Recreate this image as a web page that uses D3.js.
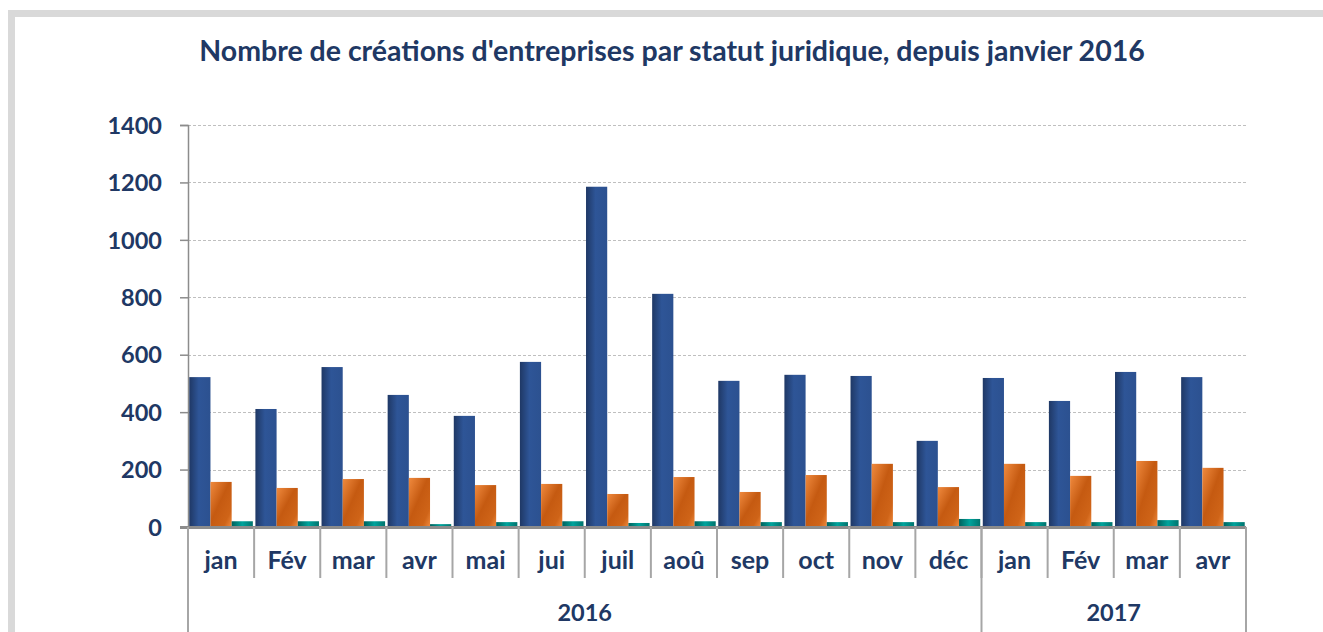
<!DOCTYPE html>
<html>
<head>
<meta charset="utf-8">
<script src="https://cdn.jsdelivr.net/npm/d3@7"></script>
<style>
  html, body { margin: 0; padding: 0; background: #fff; }
  svg { display: block; }
  text { font-family: Lato, "Open Sans", sans-serif; font-weight: bold; fill: #203864; }
</style>
</head>
<body>
<div id="chart"></div>
<script>
// chart data
var months = ["jan", "Fév", "mar", "avr", "mai", "jui", "juil", "aoû", "sep", "oct", "nov", "déc", "jan", "Fév", "mar", "avr"];
var years = ["2016", "2017"];
var yearSpans = [12, 4];
var seriesA = [522, 411, 557, 460, 387, 575, 1185, 812, 509, 530, 526, 300, 519, 439, 540, 522];
var seriesB = [157, 136, 167, 171, 146, 150, 115, 174, 122, 181, 220, 139, 220, 178, 230, 206];
var seriesC = [20, 20, 20, 10, 17, 20, 14, 20, 17, 17, 17, 28, 17, 17, 24, 17];
var yTicks = [0, 200, 400, 600, 800, 1000, 1200, 1400];
var title = "Nombre de créations d'entreprises par statut juridique, depuis janvier 2016";

var W = 1323, H = 632;
var plotLeft = 188, plotRight = 1246, plotTop = 125, plotBottom = 527;

var svg = d3.select("#chart").append("svg")
    .attr("width", W)
    .attr("height", H);

// gradients for the bars
var defs = svg.append("defs");
function grad(id, stops, x2, y2) {
    var g = defs.append("linearGradient").attr("id", id)
        .attr("x1", 0).attr("y1", 0).attr("x2", x2).attr("y2", y2);
    stops.forEach(function (s) {
        g.append("stop").attr("offset", s[0]).attr("stop-color", s[1]);
    });
}
grad("gBlue", [[0, "#1f3865"], [0.45, "#2e5597"], [1, "#2c5190"]], 1, 0);
grad("gOrange", [[0, "#f08a3e"], [0.45, "#c55a11"], [0.8, "#cf6418"], [1, "#f08a3e"]], 1, 1);
grad("gTeal", [[0, "#00615c"], [0.5, "#00a39c"], [1, "#00746e"]], 1, 0);

// outer frame
svg.append("path")
    .attr("d", "M11.5," + H + "V13.5H" + W)
    .attr("fill", "none")
    .attr("stroke", "#d9d9d9")
    .attr("stroke-width", 7);

svg.append("text")
    .attr("x", 672)
    .attr("y", 61)
    .attr("text-anchor", "middle")
    .style("font-size", "28.5px")
    .text(title);

var keys = months.map(function (m, i) { return i; });

var x = d3.scaleBand()
    .domain(keys)
    .range([plotLeft, plotRight])
    .paddingInner(0)
    .paddingOuter(0);

var x1 = d3.scaleBand()
    .domain(["a", "b", "c"])
    .range([0, x.bandwidth()])
    .paddingInner(0)
    .paddingOuter(0.06);

var y = d3.scaleLinear()
    .domain([0, 1400])
    .range([plotBottom, plotTop]);

// grid lines
svg.append("g")
    .selectAll("line")
    .data(yTicks.filter(function (t) { return t > 0; }))
    .enter().append("line")
    .attr("x1", plotLeft)
    .attr("x2", plotRight)
    .attr("y1", function (d) { return Math.round(y(d)) + 0.5; })
    .attr("y2", function (d) { return Math.round(y(d)) + 0.5; })
    .attr("stroke", "#bfbfbf")
    .attr("stroke-dasharray", "3,2");

// y axis
var yAxis = svg.append("g")
    .attr("transform", "translate(" + plotLeft + ",0)")
    .call(d3.axisLeft(y).tickValues(yTicks).tickFormat(d3.format("d")).tickSize(8).tickPadding(18));
yAxis.select(".domain").attr("stroke", "#8c8c8c").attr("stroke-width", 1.5);
yAxis.selectAll(".tick line").attr("stroke", "#8c8c8c").attr("stroke-width", 1.5);
yAxis.selectAll(".tick text")
    .style("font-size", "23.5px")
    .style("font-family", "Lato, sans-serif")
    .style("font-weight", "bold")
    .attr("fill", "#203864")
    .attr("dy", "0.35em");

// bars
var series = [
    { key: "a", values: seriesA, fill: "url(#gBlue)" },
    { key: "b", values: seriesB, fill: "url(#gOrange)" },
    { key: "c", values: seriesC, fill: "url(#gTeal)" }
];

series.forEach(function (s) {
    svg.append("g")
        .selectAll("rect")
        .data(s.values)
        .enter().append("rect")
        .attr("x", function (d, i) { return x(i) + x1(s.key); })
        .attr("width", x1.bandwidth())
        .attr("y", function (d) { return y(d); })
        .attr("height", function (d) { return y(0) - y(d); })
        .attr("fill", s.fill);
});

// x axis line
svg.append("line")
    .attr("x1", plotLeft - 8)
    .attr("x2", plotRight)
    .attr("y1", y(0) + 0.5)
    .attr("y2", y(0) + 0.5)
    .attr("stroke", "#8c8c8c")
    .attr("stroke-width", 3);

// month separators and labels
var sepColor = "#a6a6a6";
var boundaries = d3.range(months.length + 1);
svg.append("g")
    .selectAll("line")
    .data(boundaries)
    .enter().append("line")
    .attr("x1", function (d) { return d < months.length ? x(d) : plotRight; })
    .attr("x2", function (d) { return d < months.length ? x(d) : plotRight; })
    .attr("y1", plotBottom)
    .attr("y2", 578)
    .attr("stroke", sepColor)
    .attr("stroke-width", 2);

svg.append("g")
    .selectAll("text")
    .data(months)
    .enter().append("text")
    .attr("x", function (d, i) { return x(i) + x.bandwidth() / 2; })
    .attr("y", 569)
    .attr("text-anchor", "middle")
    .style("font-size", "25px")
    .text(function (d) { return d; });

// year groups
var starts = [0];
yearSpans.forEach(function (n, i) { starts.push(starts[i] + n); });
svg.append("g")
    .selectAll("line")
    .data(starts)
    .enter().append("line")
    .attr("x1", function (d) { return d < months.length ? x(d) : plotRight; })
    .attr("x2", function (d) { return d < months.length ? x(d) : plotRight; })
    .attr("y1", plotBottom)
    .attr("y2", H)
    .attr("stroke", sepColor)
    .attr("stroke-width", 2);

svg.append("g")
    .selectAll("text")
    .data(years)
    .enter().append("text")
    .attr("x", function (d, i) {
        var a = x(starts[i]);
        var b = starts[i + 1] < months.length ? x(starts[i + 1]) : plotRight;
        return (a + b) / 2;
    })
    .attr("y", 621)
    .attr("text-anchor", "middle")
    .style("font-size", "23.5px")
    .text(function (d) { return d; });
</script>
</body>
</html>
